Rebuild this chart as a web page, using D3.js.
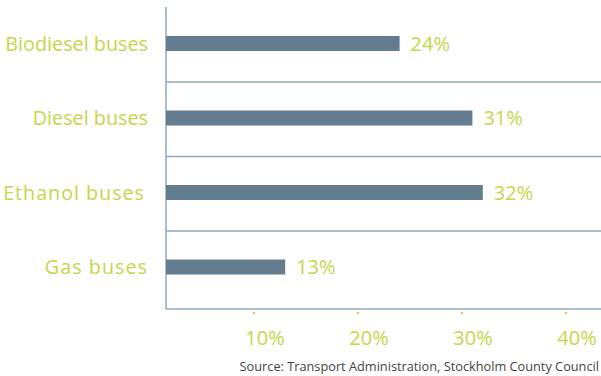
<!DOCTYPE html>
<html>
<head>
<meta charset="utf-8">
<script src="https://cdn.jsdelivr.net/npm/d3@7"></script>
<style>
  body { margin: 0; background: #fff; }
  text { font-family: "Open Sans", "DejaVu Sans", sans-serif; }
</style>
</head>
<body>
<svg width="601" height="376"></svg>
<script>
// bus fleet shares, top to bottom
var categories = ["Biodiesel buses", "Diesel buses", "Ethanol buses", "Gas buses"];
var shares = [24, 31, 32, 13];
var ticks = [10, 20, 30, 40];
var source = "Source: Transport Administration, Stockholm County Council";

var green = "#c4d64a",
    barColor = "#647d8e",
    lineColor = "#8fa8bd";

var svg = d3.select("svg");
var axisX = 166, plotTop = 7, plotBottom = 309;

var x = d3.scaleLinear().domain([0, 40]).range([150, 566]);
var y = d3.scaleBand().domain(categories).range([plotTop, 305]);

// the lower two labels are set with wider spacing in the original
var spacing = { "Ethanol buses": 0.95, "Gas buses": 1 };
var labelEnd = { "Ethanol buses": 145 };

// row separators (last one sits on the baseline)
svg.selectAll(".sep")
    .data(categories.slice(0, -1))
    .enter().append("line")
    .attr("x1", axisX).attr("x2", 601)
    .attr("y1", d => y(d) + y.bandwidth() + 0.5)
    .attr("y2", d => y(d) + y.bandwidth() + 0.5)
    .attr("stroke", lineColor)
    .attr("stroke-width", 1.3);

svg.append("line")
    .attr("x1", axisX).attr("x2", 601)
    .attr("y1", plotBottom).attr("y2", plotBottom)
    .attr("stroke", lineColor)
    .attr("stroke-width", 1.3);

svg.append("line")
    .attr("x1", axisX).attr("x2", axisX)
    .attr("y1", plotTop).attr("y2", plotBottom)
    .attr("stroke", lineColor)
    .attr("stroke-width", 1.5);

var rows = categories.map((c, i) => ({ cat: c, v: shares[i] }));

svg.selectAll(".bar")
    .data(rows)
    .enter().append("rect")
    .attr("x", axisX)
    .attr("y", d => y(d.cat) + 29)
    .attr("width", d => x(d.v) - axisX)
    .attr("height", 15)
    .attr("fill", barColor);

svg.selectAll(".val")
    .data(rows)
    .enter().append("text")
    .attr("x", d => x(d.v) + 11)
    .attr("y", d => y(d.cat) + 36.5)
    .attr("dy", "0.36em")
    .attr("fill", green)
    .attr("font-size", 20)
    .text(d => d.v + "%");

svg.selectAll(".cat")
    .data(rows)
    .enter().append("text")
    .attr("x", d => labelEnd[d.cat] || 148)
    .attr("y", d => y(d.cat) + 36.5)
    .attr("dy", "0.36em")
    .attr("text-anchor", "end")
    .attr("fill", green)
    .attr("font-size", 19.8)
    .attr("letter-spacing", d => spacing[d.cat] || 0)
    .text(d => d.cat);

// x ticks: small dots plus labels
svg.selectAll(".dot")
    .data(ticks)
    .enter().append("circle")
    .attr("cx", d => x(d))
    .attr("cy", 313)
    .attr("r", 1.3)
    .attr("fill", green);

svg.selectAll(".tick")
    .data(ticks)
    .enter().append("text")
    .attr("x", d => x(d) + 11)
    .attr("y", 345)
    .attr("text-anchor", "middle")
    .attr("fill", green)
    .attr("font-size", 20)
    .text(d => d + "%");

svg.append("text")
    .attr("x", 599)
    .attr("y", 371)
    .attr("text-anchor", "end")
    .attr("fill", "#444")
    .attr("font-size", 12.75)
    .text(source);
</script>
</body>
</html>
